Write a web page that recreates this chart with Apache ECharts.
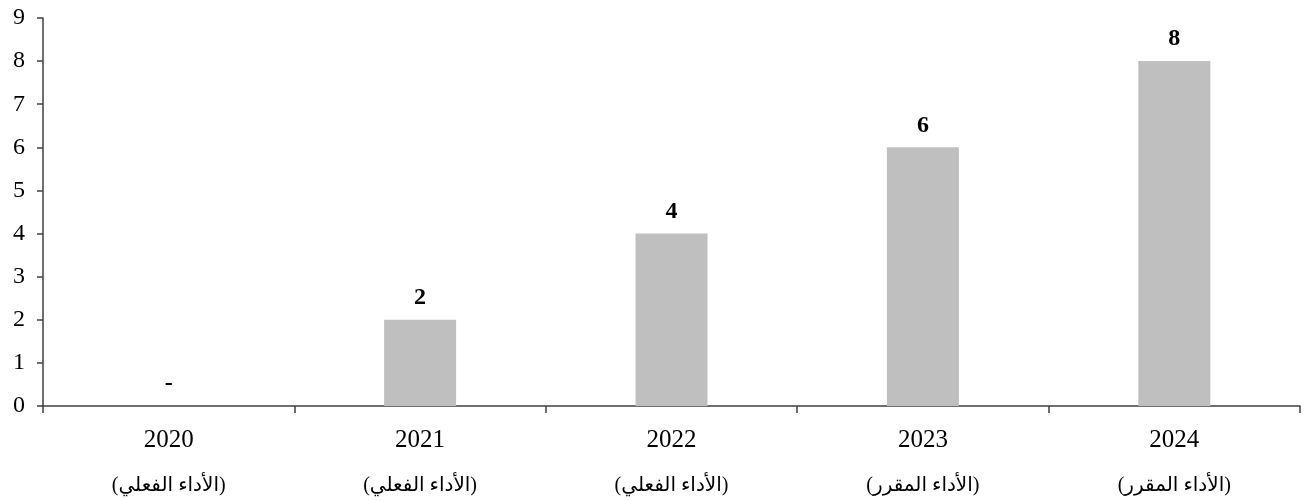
<!DOCTYPE html>
<html><head><meta charset="utf-8">
<script src="https://cdn.jsdelivr.net/npm/echarts@6/dist/echarts.min.js"></script>
<style>html,body{margin:0;padding:0;background:#fff}#c{width:1306px;height:501px}</style>
</head><body><div id="c"></div>
<script>
const years = ['2020','2021','2022','2023','2024'];
const notes = ['(الأداء الفعلي)','(الأداء الفعلي)','(الأداء الفعلي)','(الأداء المقرر)','(الأداء المقرر)'];
const values = [0, 2, 4, 6, 8];
const yTicks = {min: 0, max: 9, interval: 1};

const font = "'Liberation Serif','Times New Roman','DejaVu Sans',serif";
const chart = echarts.init(document.getElementById('c'));
chart.setOption({
  animation: false,
  grid: {left: 43, right: 6, top: 18, bottom: 95, containLabel: false, outerBoundsMode: 'none'},
  xAxis: {
    type: 'category',
    data: years.map((y, i) => '{y|' + y + '}\n{n|' + notes[i] + '}'),
    axisLine: {lineStyle: {color: '#404040', width: 1.5}},
    axisTick: {show: true, length: 7, lineStyle: {color: '#404040', width: 1.5}},
    axisLabel: {
      color: '#000', fontFamily: font, fontSize: 25, margin: 12,
      rich: {
        y: {fontFamily: font, fontSize: 25, lineHeight: 45, color: '#000'},
        n: {fontFamily: font, fontSize: 20, lineHeight: 45, color: '#000'}
      }
    }
  },
  yAxis: {
    type: 'value', min: yTicks.min, max: yTicks.max, interval: yTicks.interval,
    splitLine: {show: false},
    axisLine: {show: true, lineStyle: {color: '#404040', width: 1.5}},
    axisTick: {show: true, length: 6, lineStyle: {color: '#404040', width: 1.5}},
    axisLabel: {color: '#000', fontFamily: font, fontSize: 24, margin: 18}
  },
  series: [{
    type: 'bar', data: values, barWidth: 72,
    itemStyle: {color: '#BFBFBF'},
    label: {
      show: true, position: 'top', distance: 10,
      fontFamily: font, fontSize: 24, fontWeight: 'bold', color: '#000',
      formatter: p => p.value === 0 ? '-' : String(p.value)
    }
  }]
});
</script></body></html>
